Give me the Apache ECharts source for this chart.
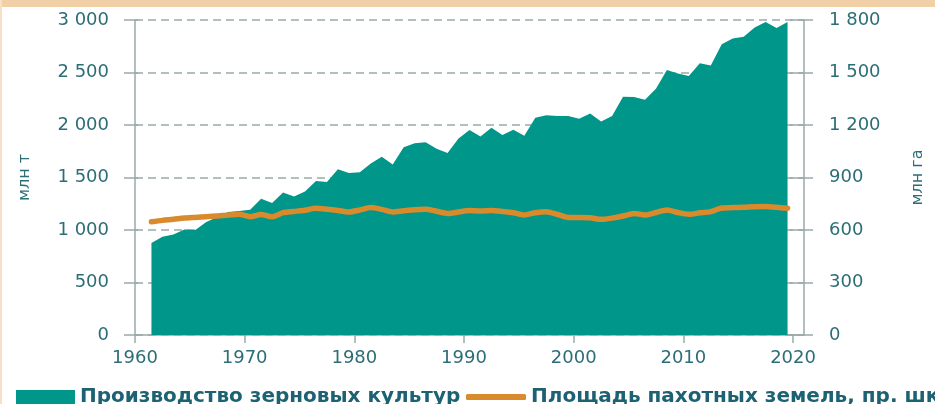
<!DOCTYPE html>
<html>
<head>
<meta charset="utf-8">
<script src="https://cdn.jsdelivr.net/npm/echarts@6/dist/echarts.min.js"></script>
<style>
html,body{margin:0;padding:0;background:#fff;}
#c{width:935px;height:404px;}
</style>
</head>
<body>
<div id="c"></div>
<script>
const years = [1961,1962,1963,1964,1965,1966,1967,1968,1969,1970,
  1971,1972,1973,1974,1975,1976,1977,1978,1979,1980,
  1981,1982,1983,1984,1985,1986,1987,1988,1989,1990,
  1991,1992,1993,1994,1995,1996,1997,1998,1999,2000,
  2001,2002,2003,2004,2005,2006,2007,2008,2009,2010,
  2011,2012,2013,2014,2015,2016,2017,2018,2019];
const grainProduction = [877,936,957,1005,1000,1077,1125,1172,1180,1193,
  1297,1257,1357,1319,1366,1466,1458,1578,1543,1550,
  1633,1697,1625,1789,1826,1835,1773,1733,1871,1952,
  1891,1973,1904,1955,1897,2070,2094,2086,2086,2059,
  2109,2034,2086,2270,2266,2240,2346,2525,2490,2466,
  2589,2567,2770,2823,2840,2929,2980,2923,2980];
const arableLand = [647,655,661,668,672,676,680,685,690,676,
  689,676,699,706,713,724,719,712,703,714,
  728,718,703,710,716,718,707,695,703,711,
  709,711,706,699,686,699,705,690,672,672,
  670,661,668,680,695,686,700,714,700,690,
  698,705,726,728,730,733,734,730,724];
const leftTicks = [0,500,1000,1500,2000,2500,3000];
const rightTicks = [0,300,600,900,1200,1500,1800];
const xTicks = [1960,1970,1980,1990,2000,2010,2020];
const seriesNames = ['Производство зерновых культур','Площадь пахотных земель, пр. шкала'];
const axisNames = ['млн т','млн га'];

const TEAL = '#009689';
const ORANGE = '#D88A2C';
const AXIS = '#9AAAA8';
const LABEL = '#2C6E76';
const LEGEND_TXT = '#1D6272';
const FONT = 'DejaVu Sans';

function fmt(v){ return String(v).replace(/\B(?=(\d{3})+(?!\d))/g,' '); }
// Excel-style date axis: each annual value sits in the middle of its year
const prodData = years.map((y,i)=>[y+0.5, grainProduction[i]]);
const landData = years.map((y,i)=>[y+0.5, arableLand[i]]);

const chart = echarts.init(document.getElementById('c'), null, {renderer:'canvas'});
const yLeftBase = {type:'value', min:leftTicks[0], max:leftTicks[leftTicks.length-1], interval:leftTicks[1]-leftTicks[0]};
const yRightBase = {type:'value', min:rightTicks[0], max:rightTicks[rightTicks.length-1], interval:rightTicks[1]-rightTicks[0]};
chart.setOption({
  animation:false,
  backgroundColor:'#fff',
  graphic:[
    {type:'rect', left:0, top:0, shape:{width:935,height:7}, style:{fill:'#F1D0A7'}, silent:true},
    {type:'rect', left:0, top:0, shape:{width:2,height:404}, style:{fill:'#F6E0C6'}, silent:true}
  ],
  grid:{left:135, right:131, top:20, bottom:69, containLabel:false},
  legend:[
    {left:16, top:387, padding:0, itemWidth:59, itemHeight:14, icon:'rect',
     data:[seriesNames[0]],
     textStyle:{fontFamily:FONT, fontSize:20, fontWeight:'bold', color:LEGEND_TXT}},
    {left:466, top:387, padding:0, itemWidth:60, itemHeight:6, icon:'roundRect',
     data:[seriesNames[1]],
     itemStyle:{color:ORANGE},
     textStyle:{fontFamily:FONT, fontSize:20, fontWeight:'bold', color:LEGEND_TXT}}
  ],
  xAxis:{
    type:'value', min:xTicks[0], max:2021, interval:xTicks[1]-xTicks[0],
    axisLine:{show:true, onZero:false, lineStyle:{color:AXIS, width:1.5}},
    axisTick:{show:true, length:8, lineStyle:{color:AXIS, width:1.5}},
    axisLabel:{showMaxLabel:false, margin:14, fontFamily:FONT, fontSize:18, color:LABEL,
      formatter:v=>String(v)},
    splitLine:{show:false}
  },
  yAxis:[
    Object.assign({}, yLeftBase, {
      position:'left', name:axisNames[0], nameLocation:'middle', nameGap:102, nameRotate:90,
      nameTextStyle:{fontFamily:FONT, fontSize:16, color:LABEL},
      axisLine:{show:true, lineStyle:{color:AXIS, width:1.5}},
      axisTick:{show:true, length:11, lineStyle:{color:AXIS, width:1.5}},
      axisLabel:{margin:26, fontFamily:FONT, fontSize:18, color:LABEL, formatter:fmt},
      splitLine:{show:true, lineStyle:{color:AXIS, width:1.5, type:[8,5]}}
    }),
    Object.assign({}, yRightBase, {
      position:'right', name:axisNames[1], nameLocation:'middle', nameGap:106, nameRotate:90,
      nameTextStyle:{fontFamily:FONT, fontSize:16, color:LABEL},
      axisLine:{show:true, lineStyle:{color:AXIS, width:1.5}},
      axisTick:{show:true, length:9, lineStyle:{color:AXIS, width:1.5}},
      axisLabel:{margin:25, fontFamily:FONT, fontSize:18, color:LABEL, formatter:fmt},
      splitLine:{show:false}
    }),
    Object.assign({}, yLeftBase, {
      position:'left', axisLine:{show:false},
      axisTick:{show:true, inside:true, length:3, lineStyle:{color:AXIS, width:1.5}},
      axisLabel:{show:false}, splitLine:{show:false}
    }),
    Object.assign({}, yRightBase, {
      position:'right', axisLine:{show:false},
      axisTick:{show:true, inside:true, length:14, lineStyle:{color:AXIS, width:1.5}},
      axisLabel:{show:false}, splitLine:{show:false}
    })
  ],
  series:[
    {name:seriesNames[0], type:'line', data:prodData, yAxisIndex:0,
     showSymbol:false, symbol:'none', z:2,
     lineStyle:{width:0, color:TEAL}, itemStyle:{color:TEAL},
     areaStyle:{color:TEAL, opacity:1}},
    {name:seriesNames[1], type:'line', data:landData, yAxisIndex:1,
     showSymbol:false, symbol:'none', smooth:0.25, z:3,
     lineStyle:{width:5.5, color:ORANGE, cap:'round', join:'round'}, itemStyle:{color:ORANGE}}
  ]
});
</script>
</body>
</html>
